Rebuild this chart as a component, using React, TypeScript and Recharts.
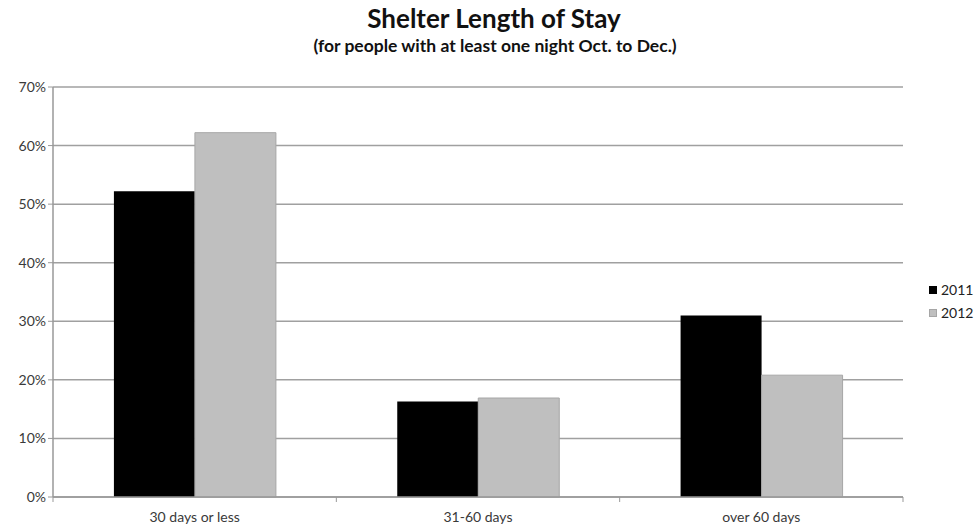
import { BarChart, Bar, XAxis, YAxis, CartesianGrid } from 'recharts'

const categories = ['30 days or less', '31-60 days', 'over 60 days']
const values2011 = [0.522, 0.163, 0.31]
const values2012 = [0.622, 0.169, 0.208]
const yTicks = [0, 0.1, 0.2, 0.3, 0.4, 0.5, 0.6, 0.7]

const data = categories.map((c, i) => ({ cat: c, y2011: values2011[i], y2012: values2012[i] }))

const FONT = 'Lato, "Open Sans", sans-serif'
const PLOT_LEFT = 53
const PLOT_RIGHT = 903
const BAND = (PLOT_RIGHT - PLOT_LEFT) / categories.length

function XTick({ x, y, payload, index }: any) {
  return (
    <g>
      <line x1={x + BAND / 2} x2={x + BAND / 2} y1={y - 8} y2={y - 3} stroke="#999" />
      {index === 0 && <line x1={x - BAND / 2} x2={x - BAND / 2} y1={y - 8} y2={y - 3} stroke="#999" />}
      <text x={x} y={y + 17} textAnchor="middle" fontSize={14} fill="#3a3a3a" fontFamily={FONT}>
        {payload.value}
      </text>
    </g>
  )
}

export default function App() {
  return (
    <div style={{ position: 'absolute', left: 0, top: 0, width: 975, height: 529, background: '#fff', fontFamily: FONT }}>
      <div style={{ position: 'absolute', top: 2, left: 0, width: 988, textAlign: 'center', fontSize: 26, fontWeight: 700, color: '#111' }}>
        Shelter Length of Stay
      </div>
      <div style={{ position: 'absolute', top: 35, left: 0, width: 990, textAlign: 'center', fontSize: 17.5, fontWeight: 700, color: '#111' }}>
        (for people with at least one night Oct. to Dec.)
      </div>
      <BarChart
        width={975}
        height={529}
        data={data}
        margin={{ top: 87, right: 975 - PLOT_RIGHT, bottom: 0, left: 0 }}
        barGap={0}
        barCategoryGap="21.5%"
      >
        <CartesianGrid vertical={false} stroke="#a0a0a0" strokeWidth={1.5} />
        <XAxis
          dataKey="cat"
          height={32}
          axisLine={{ stroke: '#999', strokeWidth: 1.5 }}
          tickLine={false}
          tick={<XTick />}
          interval={0}
        />
        <YAxis
          width={PLOT_LEFT}
          domain={[0, 0.7]}
          ticks={yTicks}
          tickFormatter={(v: number) => `${Math.round(v * 100)}%`}
          axisLine={{ stroke: '#999', strokeWidth: 1.5 }}
          tickLine={{ stroke: '#999' }}
          tickSize={5}
          tick={{ fontSize: 14, fill: '#3a3a3a', fontFamily: FONT }}
        />
        <Bar dataKey="y2011" fill="#000" isAnimationActive={false} />
        <Bar dataKey="y2012" fill="#bfbfbf" stroke="#a6a6a6" strokeWidth={1} isAnimationActive={false} />
      </BarChart>
      <div style={{ position: 'absolute', left: 929, top: 278, fontSize: 14, color: '#222', lineHeight: '23px' }}>
        <div style={{ display: 'flex', alignItems: 'center' }}>
          <span style={{ width: 8, height: 8, background: '#000', marginRight: 4 }} />2011
        </div>
        <div style={{ display: 'flex', alignItems: 'center' }}>
          <span style={{ width: 8, height: 8, background: '#bfbfbf', border: '1px solid #a6a6a6', boxSizing: 'border-box', marginRight: 4 }} />2012
        </div>
      </div>
    </div>
  )
}
